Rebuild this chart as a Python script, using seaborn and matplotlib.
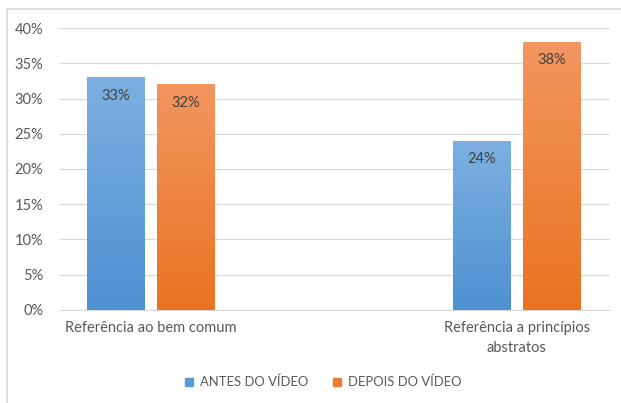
import numpy as np
import pandas as pd
import matplotlib.pyplot as plt
import matplotlib.colors as mcolors
from matplotlib.lines import Line2D
import seaborn as sns

# dados
categorias = ["Referência ao bem comum", "Referência a princípios\nabstratos"]
series = ["ANTES DO VÍDEO", "DEPOIS DO VÍDEO"]
antes = [0.33, 0.24]
depois = [0.32, 0.38]

df = pd.DataFrame({
    "categoria": categorias * 2,
    "serie": [series[0]] * 2 + [series[1]] * 2,
    "valor": antes + depois,
})

cores = {series[0]: "#5B9BD5", series[1]: "#ED7D31"}
gradientes = {series[0]: ("#7DB0E2", "#4E91D1"), series[1]: ("#F39660", "#EA7321")}

sns.set_style("white")
plt.rcParams["font.family"] = ["Lato", "DejaVu Sans"]

fig = plt.figure(figsize=(6.21, 4.03), dpi=100)
ax = fig.add_axes([0.0966, 0.2308, 0.8854, 0.6997])

sns.barplot(data=df, x="categoria", y="valor", hue="serie", palette=cores,
            width=0.382, gap=0.18, order=categorias, hue_order=series,
            legend=False, ax=ax, zorder=3)

ax.set_ylim(0, 0.40)
ax.set_xlim(-0.249, 1.254)
ax.set_yticks(np.arange(0, 0.41, 0.05))
ax.set_yticklabels([f"{int(round(v * 100))}%" for v in np.arange(0, 0.41, 0.05)])
ax.yaxis.grid(True, color="#D9D9D9", linewidth=0.9, zorder=0)
ax.set_axisbelow(True)
for s in ["top", "right", "left"]:
    ax.spines[s].set_visible(False)
ax.spines["bottom"].set_color("#D9D9D9")
ax.tick_params(axis="both", length=0, labelsize=10.5, colors="#595959", pad=8)
ax.tick_params(axis="y", pad=12)
for t in ax.get_xticklabels():
    t.set_linespacing(1.55)
ax.set_xlabel("")
ax.set_ylabel("")

# gradiente vertical nas barras + rótulos
ordem = [s for s in series for _ in categorias]
for patch, serie in zip(ax.patches, ordem):
    x0, y0 = patch.get_x(), patch.get_y()
    w, h = patch.get_width(), patch.get_height()
    topo, base = gradientes[serie]
    cmap = mcolors.LinearSegmentedColormap.from_list("g", [base, topo])
    grad = np.linspace(0, 1, 100).reshape(-1, 1)
    im = ax.imshow(grad, cmap=cmap, extent=[x0, x0 + w, y0, y0 + h],
                   origin="lower", aspect="auto", zorder=3)
    im.set_clip_path(patch)
    patch.set_facecolor("none")
    patch.set_edgecolor("none")
    ax.text(x0 + w / 2, y0 + h - 0.016, f"{int(round(h * 100))}%",
            ha="center", va="top", fontsize=10.5, color="#404040", zorder=4)

ax.set_xlim(-0.249, 1.254)
ax.set_ylim(0, 0.40)

handles = [Line2D([0], [0], marker="s", linestyle="", markersize=6,
                  markerfacecolor=cores[s], markeredgecolor=cores[s]) for s in series]
fig.legend(handles, series, loc="center", bbox_to_anchor=(0.52, 0.052), ncol=2,
           frameon=False, fontsize=9.4, labelcolor="#595959", handlelength=0.7,
           handletextpad=0.5, columnspacing=1.9)

# moldura do gráfico
fig.add_artist(Line2D([7 / 621, 7 / 621], [0, 1 - 9 / 403], color="#D9D9D9", linewidth=1.2))
fig.add_artist(Line2D([7 / 621, 1], [1 - 9 / 403, 1 - 9 / 403], color="#D9D9D9", linewidth=1.2))

fig.savefig("out.png", dpi=100)
